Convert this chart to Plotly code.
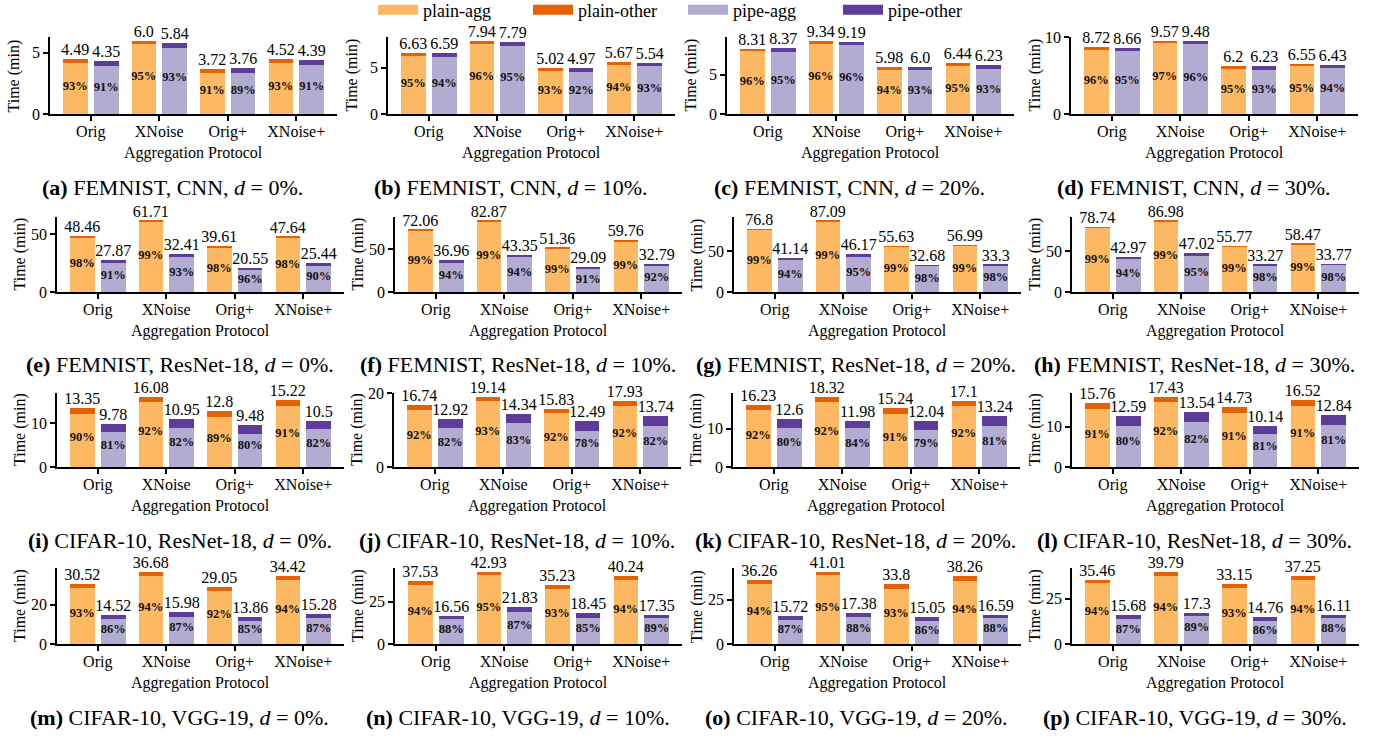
import plotly.graph_objects as go

# ---------------- data ----------------
categories = ["Orig", "XNoise", "Orig+", "XNoise+"]
series_names = ["plain-agg", "plain-other", "pipe-agg", "pipe-other"]
series_colors = ["#fdb863", "#e66101", "#b2abd2", "#5e3c99"]

captions = [
    "<b>(a)</b> FEMNIST, CNN, <i>d</i> = 0%.",
    "<b>(b)</b> FEMNIST, CNN, <i>d</i> = 10%.",
    "<b>(c)</b> FEMNIST, CNN, <i>d</i> = 20%.",
    "<b>(d)</b> FEMNIST, CNN, <i>d</i> = 30%.",
    "<b>(e)</b> FEMNIST, ResNet-18, <i>d</i> = 0%.",
    "<b>(f)</b> FEMNIST, ResNet-18, <i>d</i> = 10%.",
    "<b>(g)</b> FEMNIST, ResNet-18, <i>d</i> = 20%.",
    "<b>(h)</b> FEMNIST, ResNet-18, <i>d</i> = 30%.",
    "<b>(i)</b> CIFAR-10, ResNet-18, <i>d</i> = 0%.",
    "<b>(j)</b> CIFAR-10, ResNet-18, <i>d</i> = 10%.",
    "<b>(k)</b> CIFAR-10, ResNet-18, <i>d</i> = 20%.",
    "<b>(l)</b> CIFAR-10, ResNet-18, <i>d</i> = 30%.",
    "<b>(m)</b> CIFAR-10, VGG-19, <i>d</i> = 0%.",
    "<b>(n)</b> CIFAR-10, VGG-19, <i>d</i> = 10%.",
    "<b>(o)</b> CIFAR-10, VGG-19, <i>d</i> = 20%.",
    "<b>(p)</b> CIFAR-10, VGG-19, <i>d</i> = 30%.",
]

plain_total = [
    [4.49, 6.0, 3.72, 4.52],
    [6.63, 7.94, 5.02, 5.67],
    [8.31, 9.34, 5.98, 6.44],
    [8.72, 9.57, 6.2, 6.55],
    [48.46, 61.71, 39.61, 47.64],
    [72.06, 82.87, 51.36, 59.76],
    [76.8, 87.09, 55.63, 56.99],
    [78.74, 86.98, 55.77, 58.47],
    [13.35, 16.08, 12.8, 15.22],
    [16.74, 19.14, 15.83, 17.93],
    [16.23, 18.32, 15.24, 17.1],
    [15.76, 17.43, 14.73, 16.52],
    [30.52, 36.68, 29.05, 34.42],
    [37.53, 42.93, 35.23, 40.24],
    [36.26, 41.01, 33.8, 38.26],
    [35.46, 39.79, 33.15, 37.25],
]
plain_pct = [
    [93, 95, 91, 93],
    [95, 96, 93, 94],
    [96, 96, 94, 95],
    [96, 97, 95, 95],
    [98, 99, 98, 98],
    [99, 99, 99, 99],
    [99, 99, 99, 99],
    [99, 99, 99, 99],
    [90, 92, 89, 91],
    [92, 93, 92, 92],
    [92, 92, 91, 92],
    [91, 92, 91, 91],
    [93, 94, 92, 94],
    [94, 95, 93, 94],
    [94, 95, 93, 94],
    [94, 94, 93, 94],
]
pipe_total = [
    [4.35, 5.84, 3.76, 4.39],
    [6.59, 7.79, 4.97, 5.54],
    [8.37, 9.19, 6.0, 6.23],
    [8.66, 9.48, 6.23, 6.43],
    [27.87, 32.41, 20.55, 25.44],
    [36.96, 43.35, 29.09, 32.79],
    [41.14, 46.17, 32.68, 33.3],
    [42.97, 47.02, 33.27, 33.77],
    [9.78, 10.95, 9.48, 10.5],
    [12.92, 14.34, 12.49, 13.74],
    [12.6, 11.98, 12.04, 13.24],
    [12.59, 13.54, 10.14, 12.84],
    [14.52, 15.98, 13.86, 15.28],
    [16.56, 21.83, 18.45, 17.35],
    [15.72, 17.38, 15.05, 16.59],
    [15.68, 17.3, 14.76, 16.11],
]
pipe_pct = [
    [91, 93, 89, 91],
    [94, 95, 92, 93],
    [95, 96, 93, 93],
    [95, 96, 93, 94],
    [91, 93, 96, 90],
    [94, 94, 91, 92],
    [94, 95, 98, 98],
    [94, 95, 98, 98],
    [81, 82, 80, 82],
    [82, 83, 78, 82],
    [80, 84, 79, 81],
    [80, 82, 81, 81],
    [86, 87, 85, 87],
    [88, 87, 85, 89],
    [87, 88, 86, 88],
    [87, 89, 86, 88],
]
y_ticks = [
    [0, 5], [0, 5], [0, 5], [0, 10],
    [0, 50], [0, 50], [0, 50], [0, 50],
    [0, 10], [0, 20], [0, 10], [0, 10],
    [0, 20], [0, 25], [0, 25], [0, 25],
]

# ---------------- layout constants (px) ----------------
W, H = 1374, 738
FONT = "Liberation Serif"
axis_left = [
    [50, 388, 727, 1071],
    [57, 395, 734, 1072],
    [57, 394, 733, 1072],
    [57, 395, 734, 1072],
]
axis_width = 287
row_top = [37, 217, 393, 568]
row_bottom = [114, 292, 467, 644]
bar_w = 0.36
off = 0.225
x_range = [-0.595, 3.595]

fig = go.Figure()
layout = dict(
    width=W, height=H,
    margin=dict(l=0, r=0, t=0, b=0, autoexpand=False),
    paper_bgcolor="white", plot_bgcolor="white",
    barmode="stack",
    font=dict(family=FONT, size=16, color="black"),
    showlegend=True,
    legend=dict(orientation="h", x=373 / W, xanchor="left", y=1 - 10 / H, yanchor="middle",
                traceorder="normal", entrywidth=100,
                font=dict(family=FONT, size=18, color="black"),
                bgcolor="rgba(0,0,0,0)", itemwidth=40, tracegroupgap=0),
)
annotations = []

for p in range(16):
    r, c = divmod(p, 4)
    k = p + 1
    xa = "x" if k == 1 else f"x{k}"
    ya = "y" if k == 1 else f"y{k}"
    x0 = axis_left[r][c] / W
    x1 = (axis_left[r][c] + axis_width) / W
    y0 = 1 - row_bottom[r] / H
    y1 = 1 - row_top[r] / H
    ymax = max(plain_total[p] + pipe_total[p]) * 1.05

    px_ = [i - off for i in range(4)]
    qx_ = [i + off for i in range(4)]
    p_agg = [t * s / 100 for t, s in zip(plain_total[p], plain_pct[p])]
    p_oth = [t - a for t, a in zip(plain_total[p], p_agg)]
    q_agg = [t * s / 100 for t, s in zip(pipe_total[p], pipe_pct[p])]
    q_oth = [t - a for t, a in zip(pipe_total[p], q_agg)]

    for xs, ys, col in [(px_, p_agg, series_colors[0]), (px_, p_oth, series_colors[1]),
                        (qx_, q_agg, series_colors[2]), (qx_, q_oth, series_colors[3])]:
        fig.add_trace(go.Bar(x=xs, y=ys, width=bar_w, marker=dict(color=col, line=dict(width=0)),
                             xaxis=xa, yaxis=ya, showlegend=False, hoverinfo="skip"))
    # total labels
    fig.add_trace(go.Scatter(x=px_ + qx_, y=plain_total[p] + pipe_total[p], mode="text",
                             text=[str(v) for v in plain_total[p] + pipe_total[p]],
                             textposition="top center", textfont=dict(family=FONT, size=16, color="black"),
                             cliponaxis=False, xaxis=xa, yaxis=ya, showlegend=False, hoverinfo="skip"))
    # percentage labels
    fig.add_trace(go.Scatter(x=px_ + qx_, y=[v / 2 for v in plain_total[p] + pipe_total[p]], mode="text",
                             text=[f"<b>{v}%</b>" for v in plain_pct[p] + pipe_pct[p]],
                             textposition="middle center", textfont=dict(family=FONT, size=12.5, color="#111111"),
                             cliponaxis=False, xaxis=xa, yaxis=ya, showlegend=False, hoverinfo="skip"))

    axis_common = dict(showline=True, linecolor="black", linewidth=1.5, ticks="outside",
                       ticklen=5, tickwidth=1.5, tickcolor="black", showgrid=False, zeroline=False,
                       tickfont=dict(family=FONT, size=16, color="black"))
    layout["xaxis" if k == 1 else f"xaxis{k}"] = dict(
        domain=[x0, x1], anchor=ya, range=x_range, tickmode="array",
        tickvals=list(range(4)), ticktext=categories, fixedrange=True,
        ticklabelstandoff=-3, **axis_common)
    layout["yaxis" if k == 1 else f"yaxis{k}"] = dict(
        domain=[y0, y1], anchor=xa, range=[0, ymax], tickmode="array",
        tickvals=y_ticks[p], ticktext=[str(v) for v in y_ticks[p]], fixedrange=True, **axis_common)

    annotations.append(dict(text="Aggregation Protocol", xref=f"{xa} domain", yref=f"{ya} domain",
                            x=0.5, y=0, yshift=-39, showarrow=False, yanchor="middle",
                            font=dict(family=FONT, size=16, color="black")))
    annotations.append(dict(text="Time (min)", xref=f"{xa} domain", yref=f"{ya} domain",
                            x=0, y=0.5, xshift=-37, showarrow=False, textangle=-90,
                            xanchor="center", yanchor="middle",
                            font=dict(family=FONT, size=16, color="black")))
    annotations.append(dict(text=captions[p], xref=f"{xa} domain", yref=f"{ya} domain",
                            x=0.5, y=0, xshift=-21, yshift=-73, showarrow=False, yanchor="middle",
                            font=dict(family=FONT, size=22, color="black")))

# legend entries
for name, col in zip(series_names, series_colors):
    fig.add_trace(go.Scatter(x=[None], y=[None], mode="lines", name=name,
                             line=dict(color=col, width=13), xaxis="x", yaxis="y"))

layout["annotations"] = annotations
fig.update_layout(**layout)
fig.write_html("out.html", config={"displayModeBar": False},
               post_script="document.body.style.margin='0';")
